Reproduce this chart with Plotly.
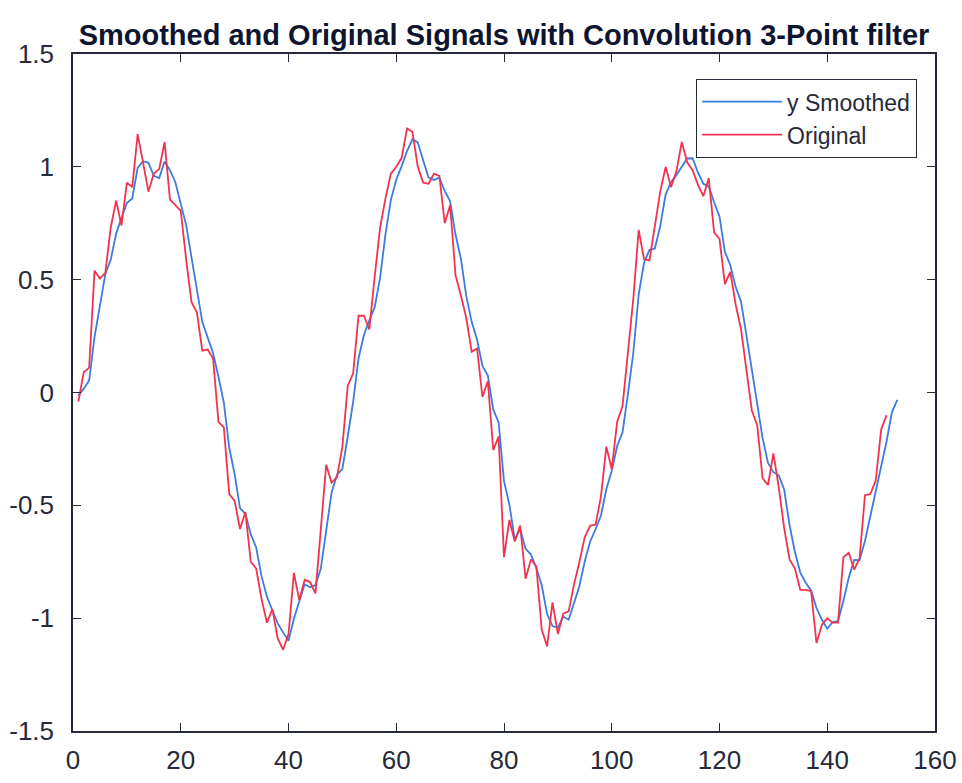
import plotly.graph_objects as go

# Sample indices
x_original = list(range(1, 152))
x_smoothed = list(range(1, 154))

# Original (noisy) signal
y_original = [
    -0.04, 0.09, 0.11, 0.54, 0.505, 0.53, 0.73, 0.85, 0.74, 0.93,
    0.91, 1.145, 1.02, 0.89, 0.97, 0.99, 1.11, 0.855, 0.83, 0.805,
    0.59, 0.40, 0.355, 0.185, 0.19, 0.15, -0.13, -0.155, -0.45, -0.48,
    -0.605, -0.53, -0.75, -0.78, -0.915, -1.02, -0.96, -1.09, -1.14, -1.07,
    -0.80, -0.92, -0.83, -0.84, -0.89, -0.61, -0.32, -0.40, -0.375, -0.24,
    0.03, 0.085, 0.34, 0.34, 0.28, 0.515, 0.73, 0.86, 0.97, 1.0,
    1.04, 1.17, 1.155, 1.0, 0.93, 0.925, 0.97, 0.96, 0.75, 0.83,
    0.52, 0.43, 0.33, 0.18, 0.195, -0.02, 0.05, -0.255, -0.195, -0.73,
    -0.565, -0.66, -0.59, -0.825, -0.74, -0.77, -1.05, -1.125, -0.93, -1.07,
    -0.98, -0.97, -0.85, -0.75, -0.64, -0.59, -0.585, -0.46, -0.24, -0.34,
    -0.13, -0.06, 0.17, 0.415, 0.72, 0.59, 0.585, 0.74, 0.89, 1.0,
    0.91, 0.98, 1.11, 1.02, 0.985, 0.92, 0.87, 0.95, 0.71, 0.68,
    0.48, 0.535, 0.39, 0.28, 0.09, -0.08, -0.145, -0.38, -0.41, -0.27,
    -0.42, -0.60, -0.74, -0.78, -0.875, -0.875, -0.88, -1.11, -1.03, -1.00,
    -1.02, -1.02, -0.73, -0.71, -0.785, -0.735, -0.455, -0.45, -0.39, -0.165,
    -0.10,
]

# Smoothed signal (3-point convolution, full length)
y_smoothed = [
    -0.013, 0.017, 0.053, 0.247, 0.385, 0.525, 0.588, 0.703, 0.773, 0.84,
    0.86, 0.995, 1.025, 1.018, 0.96, 0.95, 1.023, 0.985, 0.932, 0.83,
    0.742, 0.598, 0.448, 0.313, 0.243, 0.175, 0.07, -0.045, -0.245, -0.362,
    -0.512, -0.538, -0.628, -0.687, -0.815, -0.905, -0.965, -1.023, -1.063, -1.10,
    -1.003, -0.93, -0.85, -0.863, -0.853, -0.78, -0.607, -0.443, -0.365, -0.338,
    -0.195, -0.042, 0.152, 0.255, 0.32, 0.378, 0.508, 0.702, 0.853, 0.943,
    1.003, 1.07, 1.122, 1.108, 1.028, 0.952, 0.942, 0.952, 0.893, 0.847,
    0.70, 0.593, 0.427, 0.313, 0.235, 0.118, 0.075, -0.075, -0.133, -0.393,
    -0.497, -0.652, -0.605, -0.692, -0.718, -0.778, -0.853, -0.982, -1.035, -1.042,
    -0.993, -1.007, -0.933, -0.857, -0.747, -0.66, -0.605, -0.545, -0.428, -0.347,
    -0.237, -0.177, -0.007, 0.175, 0.435, 0.575, 0.632, 0.638, 0.738, 0.877,
    0.933, 0.963, 1.0, 1.037, 1.038, 0.975, 0.925, 0.913, 0.843, 0.78,
    0.623, 0.565, 0.468, 0.402, 0.253, 0.097, -0.045, -0.202, -0.312, -0.353,
    -0.367, -0.43, -0.587, -0.707, -0.798, -0.843, -0.877, -0.955, -1.007, -1.047,
    -1.017, -1.013, -0.923, -0.82, -0.742, -0.743, -0.658, -0.547, -0.432, -0.335,
    -0.218, -0.088, -0.033,
]

x_tick_vals = [0, 20, 40, 60, 80, 100, 120, 140, 160]
x_tick_text = ["0", "20", "40", "60", "80", "100", "120", "140", "160"]
y_tick_vals = [-1.5, -1, -0.5, 0, 0.5, 1, 1.5]
y_tick_text = ["-1.5", "-1", "-0.5", "0", "0.5", "1", "1.5"]

axis_color = "#262a3a"
font_family = "Liberation Sans, Arial, sans-serif"

W, H = 962, 783

fig = go.Figure()
fig.add_trace(go.Scatter(
    x=x_smoothed, y=y_smoothed, mode="lines", name="y Smoothed",
    line=dict(color="#3b7ddd", width=1.8),
))
fig.add_trace(go.Scatter(
    x=x_original, y=y_original, mode="lines", name="Original",
    line=dict(color="#f2334f", width=1.8),
))

fig.update_layout(
    width=W, height=H,
    margin=dict(l=73, r=27, t=54, b=52, autoexpand=False),
    paper_bgcolor="white", plot_bgcolor="white",
    font=dict(family=font_family, color=axis_color, size=26),
    title=dict(
        text="<b>Smoothed and Original Signals with Convolution 3-Point filter</b>",
        x=0.5, xref="paper", xanchor="center",
        y=1 - 35 / H, yref="container", yanchor="middle",
        font=dict(size=29, color="#0f1530", family=font_family),
    ),
    showlegend=True,
    legend=dict(
        x=0.979, y=0.963, xanchor="right", yanchor="top",
        bgcolor="white", bordercolor=axis_color, borderwidth=1.2,
        font=dict(size=23, color=axis_color),
        itemwidth=80,
        tracegroupgap=0,
    ),
)

fig.update_xaxes(
    range=[0, 160], tickvals=x_tick_vals, ticktext=x_tick_text,
    showgrid=False, zeroline=False, automargin=False,
    showline=True, linecolor=axis_color, linewidth=1.5, mirror="ticks",
    ticks="inside", ticklen=8, tickcolor=axis_color, tickwidth=1.2,
    tickfont=dict(size=26, color=axis_color),
    ticklabelstandoff=5, ticklabeloverflow="allow",
)
fig.update_yaxes(
    range=[-1.5, 1.5], tickvals=y_tick_vals, ticktext=y_tick_text,
    showgrid=False, zeroline=False, automargin=False,
    showline=True, linecolor=axis_color, linewidth=1.5, mirror="ticks",
    ticks="inside", ticklen=8, tickcolor=axis_color, tickwidth=1.2,
    tickfont=dict(size=26, color=axis_color),
    ticklabelstandoff=12, ticklabeloverflow="allow",
)

fig.write_html(
    "out.html",
    config={"displayModeBar": False},
    post_script="document.body.style.margin='0';document.body.style.overflow='hidden';",
)
